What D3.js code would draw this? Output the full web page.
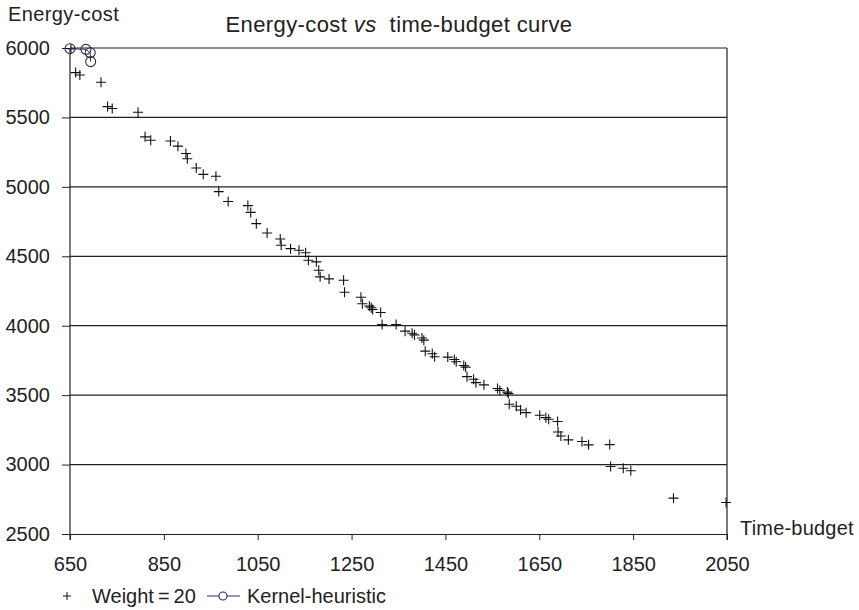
<!DOCTYPE html>
<html>
<head>
<meta charset="utf-8">
<script src="https://cdn.jsdelivr.net/npm/d3@7"></script>
<style>
  body { margin: 0; background: #fff; }
  text { font-family: "Liberation Sans", Arial, sans-serif; fill: #222; }
</style>
</head>
<body>
<svg id="chart" width="859" height="610"></svg>
<script>
// Weight = 20 series (time-budget, energy-cost)
var weightTime = [652, 662, 671, 716, 730, 740, 795, 810, 822, 864, 880, 897, 900, 919, 934, 961, 967, 987,
  1029, 1035, 1047, 1070, 1098, 1100, 1120, 1138, 1152, 1158, 1175, 1180, 1183, 1202, 1233, 1235,
  1270, 1273, 1288, 1292, 1295, 1312, 1315, 1345, 1364, 1379, 1384, 1400, 1404, 1407, 1422, 1427,
  1455, 1469, 1473, 1489, 1493, 1496, 1510, 1515, 1532, 1561, 1566, 1582, 1584, 1586, 1601, 1610,
  1622, 1651, 1664, 1670, 1689, 1690, 1696, 1712, 1741, 1755, 1800, 1802, 1829, 1845, 1936, 2048];
var weightEnergy = [5995, 5823, 5806, 5753, 5578, 5564, 5537, 5360, 5336, 5330, 5293, 5240, 5202, 5136, 5090, 5076, 4966, 4895,
  4865, 4816, 4735, 4668, 4625, 4579, 4555, 4543, 4525, 4471, 4460, 4399, 4352, 4337, 4327, 4241,
  4205, 4158, 4141, 4129, 4117, 4095, 4009, 4009, 3961, 3946, 3934, 3912, 3896, 3817, 3798, 3777,
  3774, 3757, 3741, 3714, 3702, 3633, 3614, 3590, 3574, 3548, 3534, 3522, 3511, 3434, 3420, 3393,
  3374, 3355, 3338, 3326, 3310, 3235, 3206, 3178, 3166, 3142, 3144, 2986, 2974, 2955, 2758, 2727];

// Kernel-heuristic series
var kernelTime = [650, 684, 693, 694];
var kernelEnergy = [5995, 5990, 5966, 5902];

var xTicks = [650, 850, 1050, 1250, 1450, 1650, 1850, 2050];
var yTicks = [2500, 3000, 3500, 4000, 4500, 5000, 5500, 6000];

var svg = d3.select("#chart");

var x = d3.scaleLinear().domain([650, 2050]).range([70, 727]);
var y = d3.scaleLinear().domain([2500, 6000]).range([534, 48]);

// horizontal grid lines
svg.append("g")
  .selectAll("line")
  .data(yTicks.slice(1))
  .enter()
  .append("line")
  .attr("x1", x(650)).attr("x2", x(2050))
  .attr("y1", function (d) { return y(d); })
  .attr("y2", function (d) { return y(d); })
  .attr("stroke", "#222")
  .attr("stroke-width", 1.2);

// right border
svg.append("line")
  .attr("x1", x(2050)).attr("x2", x(2050))
  .attr("y1", y(6000)).attr("y2", y(2500) + 6)
  .attr("stroke", "#222").attr("stroke-width", 1.2);

// Y axis
var yAxis = svg.append("g")
  .attr("transform", "translate(" + x(650) + ",0)")
  .call(d3.axisLeft(y).tickValues(yTicks).tickFormat(d3.format("d")).tickSize(8).tickSizeOuter(0).tickPadding(12));
yAxis.select(".domain").remove();
yAxis.selectAll("line").attr("stroke", "#222");
yAxis.selectAll("text").style("font-size", "20px").attr("fill", "#222");
svg.append("line")
  .attr("x1", x(650)).attr("x2", x(650))
  .attr("y1", y(6000)).attr("y2", y(2500) + 6)
  .attr("stroke", "#222").attr("stroke-width", 1.2);

// X axis
var xAxis = svg.append("g")
  .attr("transform", "translate(0," + y(2500) + ")")
  .call(d3.axisBottom(x).tickValues(xTicks).tickFormat(d3.format("d")).tickSizeInner(6).tickSizeOuter(0).tickPadding(17));
xAxis.select(".domain").attr("stroke", "#222").attr("stroke-width", 1.2);
xAxis.selectAll("line").attr("stroke", "#222");
xAxis.selectAll("text").style("font-size", "20px").attr("fill", "#222");

// Weight = 20 crosses
svg.append("g")
  .selectAll("path")
  .data(weightTime.map(function (t, i) { return [t, weightEnergy[i]]; }))
  .enter()
  .append("path")
  .attr("d", "M-5,0H5M0,-5V5")
  .attr("transform", function (d) { return "translate(" + x(d[0]) + "," + y(d[1]) + ")"; })
  .attr("stroke", "#111")
  .attr("stroke-width", 1.1)
  .attr("fill", "none");

// Kernel-heuristic line + circles
var kernel = kernelTime.map(function (t, i) { return [t, kernelEnergy[i]]; });
svg.append("path")
  .datum(kernel)
  .attr("d", d3.line().x(function (d) { return x(d[0]); }).y(function (d) { return y(d[1]); }))
  .attr("fill", "none")
  .attr("stroke", "#2b2b8c")
  .attr("stroke-width", 1);
svg.append("g")
  .selectAll("circle")
  .data(kernel)
  .enter()
  .append("circle")
  .attr("cx", function (d) { return x(d[0]); })
  .attr("cy", function (d) { return y(d[1]); })
  .attr("r", 5)
  .attr("fill", "none")
  .attr("stroke", "#333")
  .attr("stroke-width", 1.1);

// titles
svg.append("text")
  .attr("x", 399).attr("y", 32)
  .attr("text-anchor", "middle")
  .style("font-size", "22px")
  .style("letter-spacing", "0.4px")
  .attr("xml:space", "preserve")
  .html('Energy-cost <tspan font-style="italic">vs</tspan>  time-budget curve');
svg.append("text")
  .attr("x", 8).attr("y", 21)
  .style("font-size", "20px")
  .style("letter-spacing", "0.4px")
  .text("Energy-cost");
svg.append("text")
  .attr("x", 740).attr("y", 535)
  .style("font-size", "20px")
  .style("letter-spacing", "0.2px")
  .text("Time-budget");

// legend
var leg = svg.append("g").attr("transform", "translate(0,596)");
leg.append("path")
  .attr("d", "M63,0H71M67,-4V4")
  .attr("stroke", "#111").attr("stroke-width", 1);
leg.append("text")
  .attr("x", 92).attr("y", 7)
  .style("font-size", "20px")
  .text("Weight\u2009=\u200920");
leg.append("line")
  .attr("x1", 207).attr("x2", 240).attr("y1", 0).attr("y2", 0)
  .attr("stroke", "#2b2b8c").attr("stroke-width", 1);
leg.append("circle")
  .attr("cx", 223).attr("cy", 0).attr("r", 4)
  .attr("fill", "#fff").attr("stroke", "#333").attr("stroke-width", 1.1);
leg.append("text")
  .attr("x", 247).attr("y", 7)
  .style("font-size", "20px")
  .text("Kernel-heuristic");
</script>
</body>
</html>
